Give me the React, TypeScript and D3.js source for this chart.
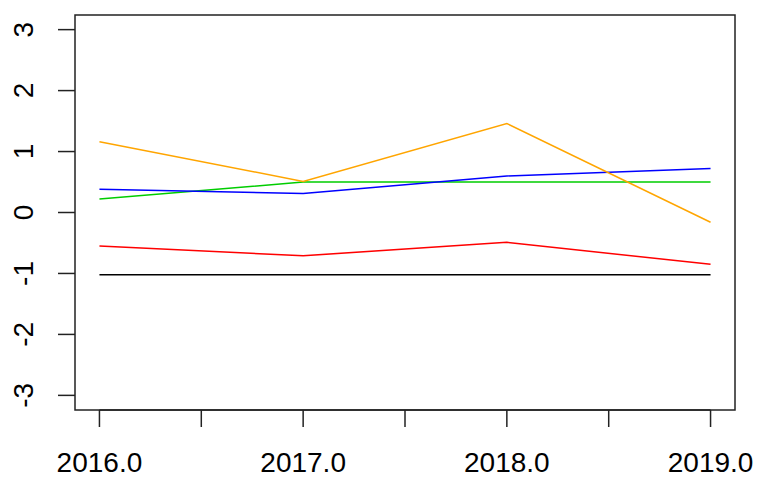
import { useEffect, useRef } from "react";
import * as d3 from "d3";

const years = [2016, 2017, 2018, 2019];
const blackSeries = [-1.02, -1.02, -1.02, -1.02];
const redSeries = [-0.55, -0.71, -0.49, -0.85];
const greenSeries = [0.22, 0.5, 0.5, 0.5];
const blueSeries = [0.38, 0.31, 0.6, 0.72];
const orangeSeries = [1.16, 0.51, 1.46, -0.16];

const xTicks = [2016, 2016.5, 2017, 2017.5, 2018, 2018.5, 2019];
const xLabels = [2016, 2017, 2018, 2019];
const yTicks = [-3, -2, -1, 0, 1, 2, 3];

const series = [
  { values: blackSeries, color: "#000000" },
  { values: redSeries, color: "#FF0000" },
  { values: greenSeries, color: "#00CD00" },
  { values: blueSeries, color: "#0000FF" },
  { values: orangeSeries, color: "#FFA500" },
];

export default function App() {
  const svgRef = useRef<SVGSVGElement>(null);

  useEffect(() => {
    if (!svgRef.current) return;
    const svg = d3.select(svgRef.current);
    svg.selectAll("*").remove();

    const box = { left: 75, right: 735, top: 15, bottom: 410 };
    const font = "Liberation Sans, Arial, sans-serif";

    // R-style 4% axis extension
    const x = d3
      .scaleLinear()
      .domain([2016 - 0.12, 2019 + 0.12])
      .range([box.left, box.right]);
    const y = d3
      .scaleLinear()
      .domain([-3.24, 3.24])
      .range([box.bottom, box.top]);

    const g = svg.append("g");

    // Lines
    const line = d3
      .line<number>()
      .x((_, i) => x(years[i]))
      .y((d) => y(d));

    series.forEach((s) => {
      g.append("path")
        .datum(s.values)
        .attr("d", line)
        .attr("fill", "none")
        .attr("stroke", s.color)
        .attr("stroke-width", 1.5);
    });

    // Box
    g.append("rect")
      .attr("x", box.left)
      .attr("y", box.top)
      .attr("width", box.right - box.left)
      .attr("height", box.bottom - box.top)
      .attr("fill", "none")
      .attr("stroke", "#222")
      .attr("stroke-width", 1.5);

    // X axis
    const xMin = x(xTicks[0]);
    const xMax = x(xTicks[xTicks.length - 1]);
    g.append("line")
      .attr("x1", xMin)
      .attr("x2", xMax)
      .attr("y1", box.bottom)
      .attr("y2", box.bottom)
      .attr("stroke", "#222")
      .attr("stroke-width", 1.5);
    g.selectAll(".xtick")
      .data(xTicks)
      .join("line")
      .attr("class", "xtick")
      .attr("x1", (d) => x(d))
      .attr("x2", (d) => x(d))
      .attr("y1", box.bottom)
      .attr("y2", box.bottom + 17)
      .attr("stroke", "#222")
      .attr("stroke-width", 1.5);
    g.selectAll(".xlabel")
      .data(xLabels)
      .join("text")
      .attr("class", "xlabel")
      .attr("x", (d) => x(d))
      .attr("y", 472)
      .attr("text-anchor", "middle")
      .attr("font-family", font)
      .attr("font-size", "28px")
      .attr("fill", "#000")
      .text((d) => d.toFixed(1));

    // Y axis
    g.selectAll(".ytick")
      .data(yTicks)
      .join("line")
      .attr("class", "ytick")
      .attr("x1", box.left - 17)
      .attr("x2", box.left)
      .attr("y1", (d) => y(d))
      .attr("y2", (d) => y(d))
      .attr("stroke", "#222")
      .attr("stroke-width", 1.5);
    g.selectAll(".ylabel")
      .data(yTicks)
      .join("text")
      .attr("class", "ylabel")
      .attr("transform", (d) => `translate(33,${y(d)}) rotate(-90)`)
      .attr("text-anchor", "middle")
      .attr("font-family", font)
      .attr("font-size", "28px")
      .attr("fill", "#000")
      .text((d) => String(d));
  }, []);

  return (
    <svg
      ref={svgRef}
      width={757}
      height={479}
      style={{ position: "absolute", left: 0, top: 0, background: "#fff" }}
    />
  );
}
